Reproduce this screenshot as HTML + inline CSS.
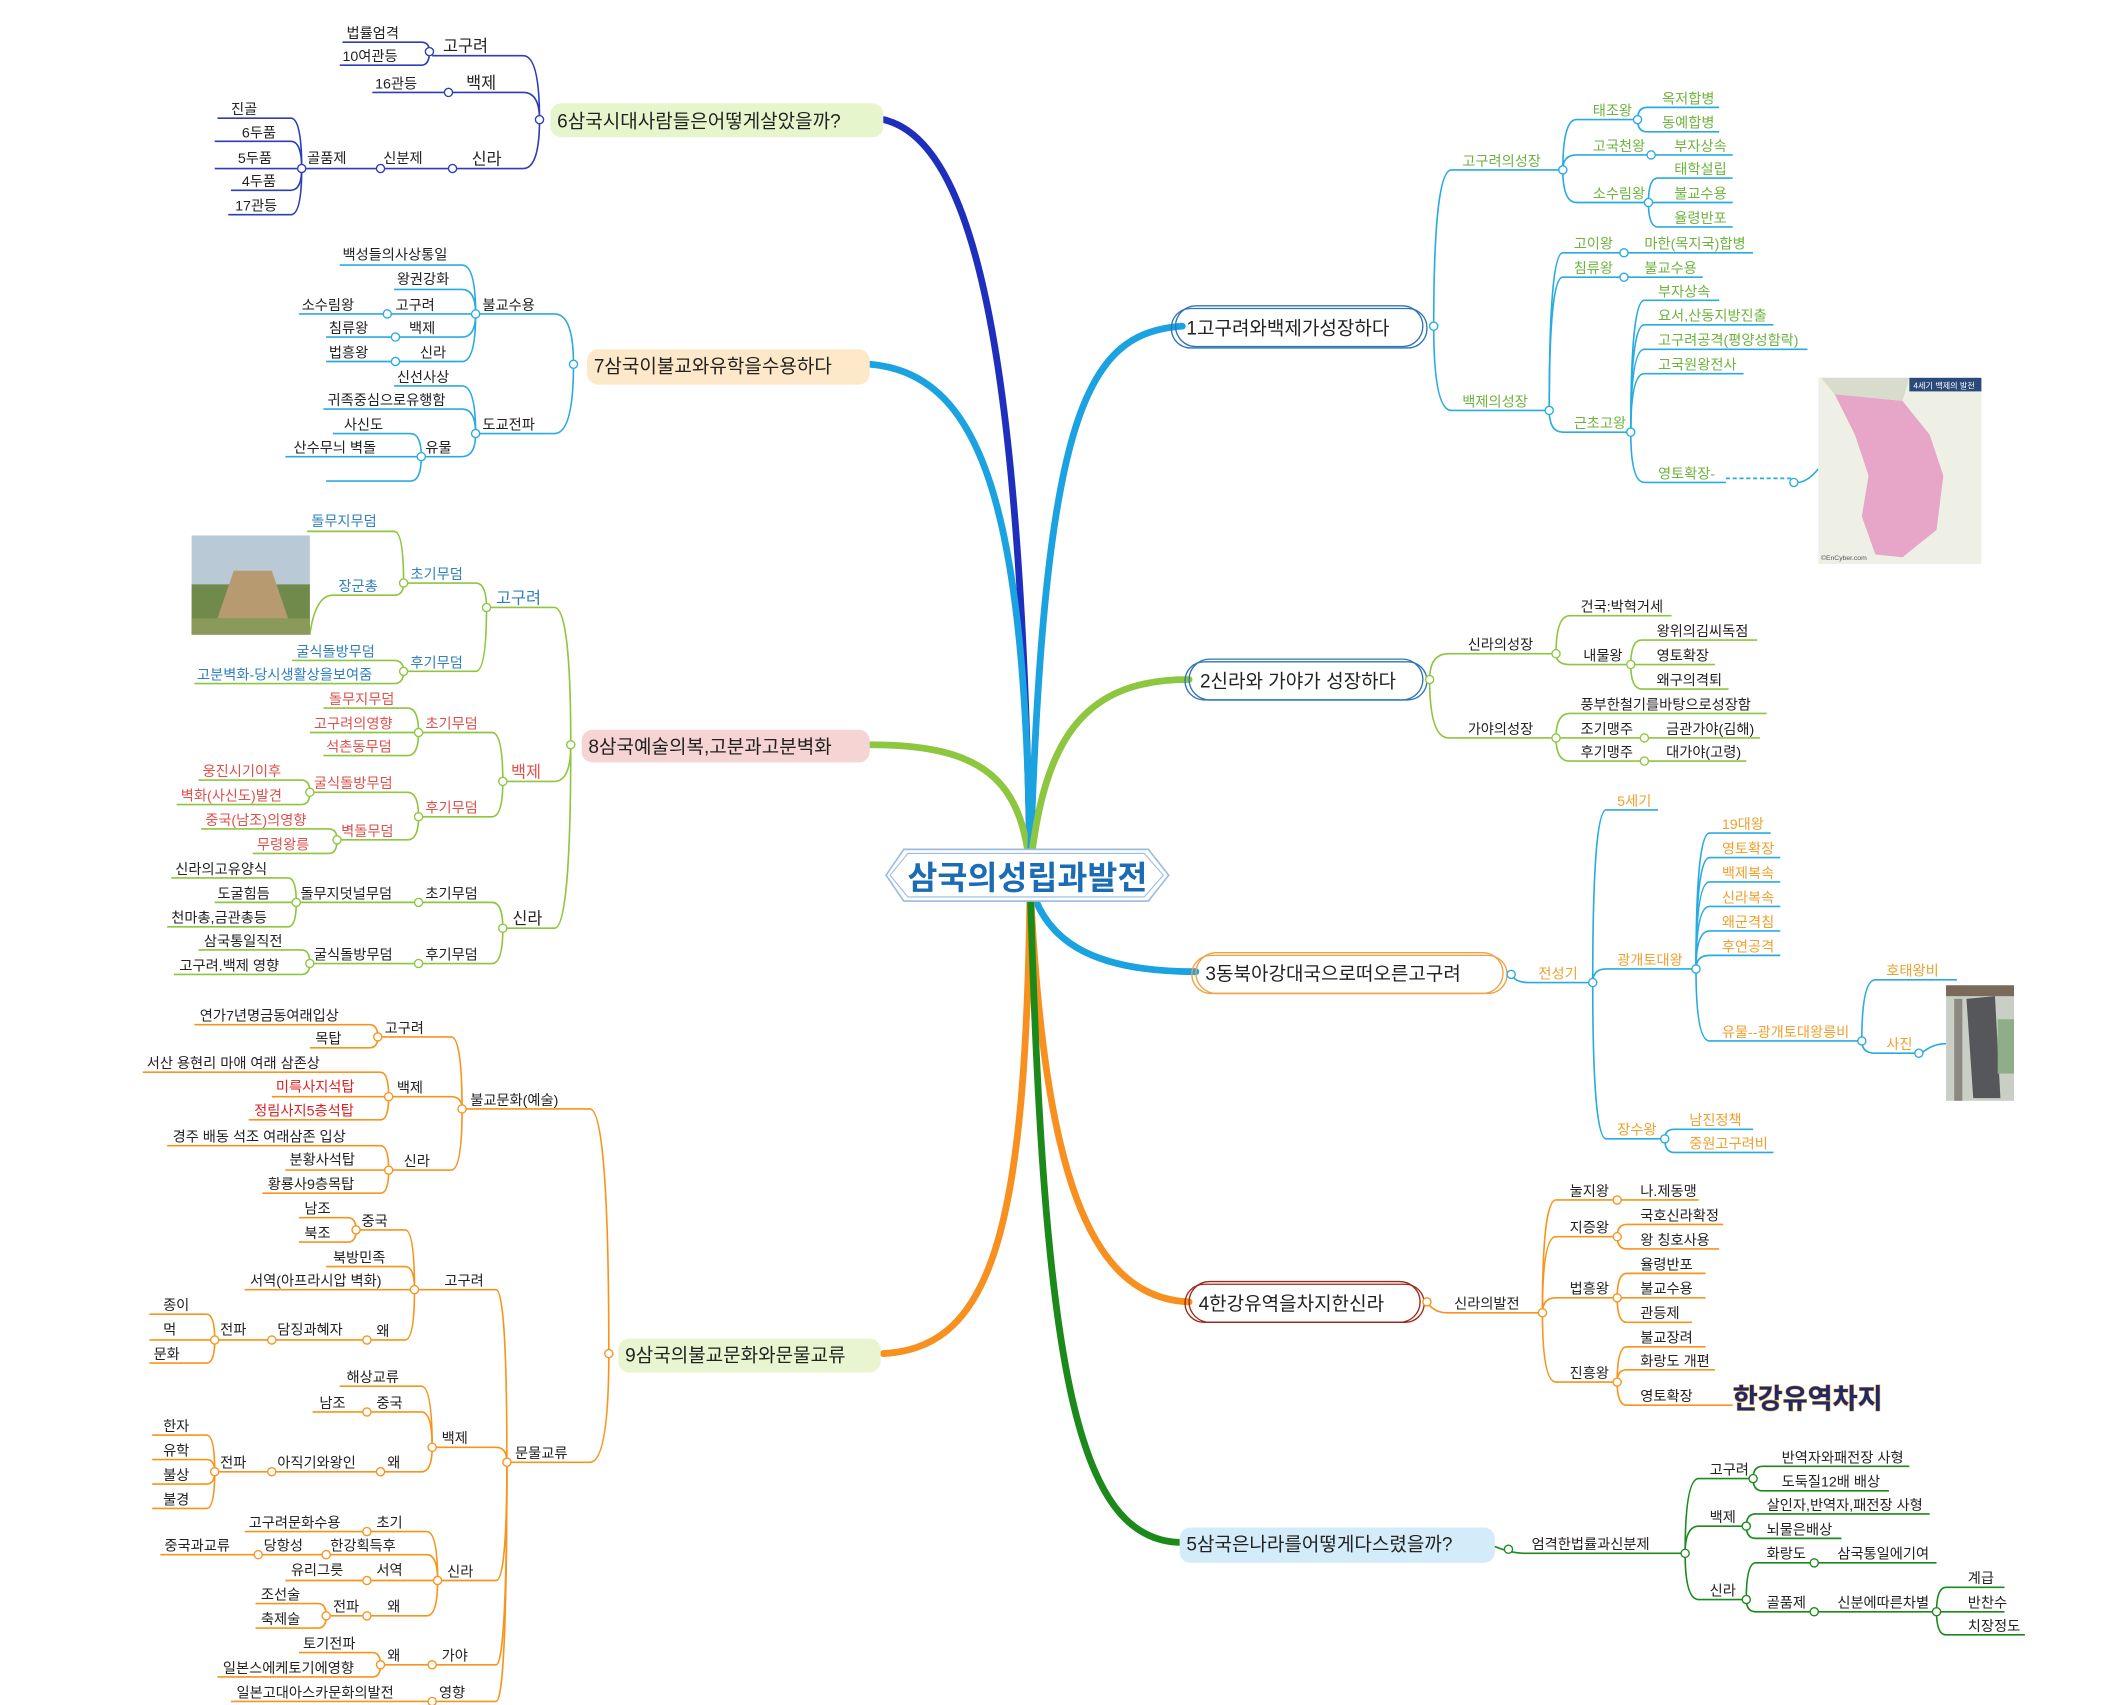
<!DOCTYPE html>
<html><head><meta charset="utf-8"><style>
html,body{margin:0;padding:0;background:#fff;}
svg{display:block}
text{font-family:"Liberation Sans","Noto Sans CJK KR",sans-serif;font-size:10.5px;}
.t{font-size:14px;fill:#222}
.c circle{fill:#fff}
</style></head><body>
<svg width="2120" height="1705" viewBox="0 0 1560 1254.6" xmlns="http://www.w3.org/2000/svg">
<!-- main branches -->
<g fill="none" stroke-linecap="round">
<path d="M758,640 C752,300 725,105 650,88" stroke="#1f2fbd" stroke-width="5"/>
<path d="M758,640 C755,380 725,275 640,268" stroke="#1aa3e0" stroke-width="5"/>
<path d="M758,640 C752,575 725,548 640,548" stroke="#8dc63f" stroke-width="5"/>
<path d="M758,650 C755,900 732,992 650,996" stroke="#f7901e" stroke-width="5"/>
<path d="M758,640 C768,300 800,245 870,240" stroke="#1aa3e0" stroke-width="5"/>
<path d="M758,640 C768,540 800,500 875,500" stroke="#8dc63f" stroke-width="5"/>
<path d="M758,650 C768,690 800,715 880,715" stroke="#1aa3e0" stroke-width="5"/>
<path d="M758,650 C768,860 800,955 875,958" stroke="#f7901e" stroke-width="5"/>
<path d="M758,650 C768,1000 790,1135 870,1135" stroke="#1b8a1b" stroke-width="5"/>
</g>
<!-- title -->
<polygon points="665,625 845,625 860,644 845,663 665,663 652,644" fill="#fff" stroke="#9bbbe0" stroke-width="1.2"/>
<polygon points="668,628 842,628 856,644 842,660 668,660 655,644" fill="#fff" stroke="#9bbbe0" stroke-width="0.8"/>
<text x="756" y="654" text-anchor="middle" style="font-size:24px;font-weight:bold;fill:#1c6bb5">삼국의성립과발전</text>

<!-- ===== Section 6 ===== -->
<rect x="405" y="76" width="245" height="25" rx="8" fill="#e6f5cc"/>
<g fill="none" stroke="#2d3eb8" stroke-width="1.2">
<path d="M397,88 Q397,41 385,41 H318"/><path d="M397,88 Q397,68 385,68 H330"/><path d="M397,88 Q397,124 385,124 H333"/>
<path d="M316,38 Q316,31 310,31 H252"/><path d="M316,38 Q316,48 310,48 H250"/>
<path d="M328,68 H274"/><path d="M333,124 H222"/>
<path d="M222,124 Q222,87 214,87 H160"/><path d="M222,124 Q222,104 214,104 H158"/><path d="M222,124 H158"/><path d="M222,124 Q222,140 214,140 H170"/><path d="M222,124 Q222,158 214,158 H168"/>
</g>
<g class="c" stroke="#2d3eb8"><circle cx="397" cy="88" r="3"/><circle cx="316" cy="38" r="3"/><circle cx="330" cy="68" r="3"/><circle cx="333" cy="124" r="3"/><circle cx="280" cy="124" r="3"/><circle cx="222" cy="124" r="3"/></g>
<text x="410" y="94" class="t">6삼국시대사람들은어떻게살았을까?</text>
<g fill="#222"><text x="326" y="38" style="font-size:12px">고구려</text><text x="255" y="28">법률엄격</text><text x="252" y="45">10여관등</text>
<text x="343" y="65" style="font-size:12px">백제</text><text x="276" y="65">16관등</text>
<text x="347" y="121" style="font-size:12px">신라</text><text x="282" y="120">신분제</text><text x="226" y="120">골품제</text>
<text x="170" y="84">진골</text><text x="178" y="101">6두품</text><text x="175" y="120">5두품</text><text x="178" y="137">4두품</text><text x="173" y="155">17관등</text></g>

<!-- ===== Section 7 ===== -->
<rect x="432" y="257" width="208" height="26" rx="8" fill="#fde9c9"/>
<g fill="none" stroke="#29abe2" stroke-width="1.2">
<path d="M422,268 Q422,231 408,231 H350"/><path d="M422,268 Q422,319 408,319 H350"/>
<path d="M350,231 Q350,195 340,195 H250"/><path d="M350,231 Q350,213 340,213 H290"/><path d="M350,231 H220"/>
<path d="M350,231 Q350,248 340,248 H240"/><path d="M350,231 Q350,266 340,266 H240"/>
<path d="M350,319 Q350,284 340,284 H290"/><path d="M350,319 Q350,301 340,301 H238"/><path d="M350,319 Q350,336 340,336 H310"/>
<path d="M310,336 Q310,319 302,319 H245"/><path d="M310,336 H210"/><path d="M310,336 Q310,354 302,354 H240"/>
</g>
<g class="c" stroke="#29abe2"><circle cx="422" cy="268" r="3"/><circle cx="350" cy="231" r="3"/><circle cx="350" cy="319" r="3"/><circle cx="285" cy="231" r="3"/><circle cx="291" cy="248" r="3"/><circle cx="291" cy="266" r="3"/><circle cx="310" cy="336" r="3"/></g>
<text x="437" y="274" class="t">7삼국이불교와유학을수용하다</text>
<g fill="#222"><text x="355" y="228">불교수용</text><text x="355" y="316">도교전파</text>
<text x="252" y="191">백성들의사상통일</text><text x="292" y="209">왕권강화</text><text x="291" y="228">고구려</text><text x="222" y="228">소수림왕</text>
<text x="301" y="245">백제</text><text x="242" y="245">침류왕</text><text x="309" y="263">신라</text><text x="242" y="263">법흥왕</text>
<text x="292" y="281">신선사상</text><text x="241" y="298">귀족중심으로유행함</text><text x="313" y="333">유물</text><text x="253" y="316">사신도</text><text x="216" y="333">산수무늬 벽돌</text></g>

<!-- ===== Section 8 ===== -->
<rect x="428" y="537" width="212" height="24" rx="8" fill="#f7d4d4"/>
<g fill="none" stroke="#8dc63f" stroke-width="1.2">
<path d="M420,548 Q420,447 408,447 H358"/><path d="M420,548 Q420,575 408,575 H370"/><path d="M420,548 Q420,683 408,683 H370"/>
<path d="M358,447 Q358,429 350,429 H297"/><path d="M358,447 Q358,494 350,494 H297"/>
<path d="M297,429 Q297,391 290,391 H226"/><path d="M297,429 Q297,438 290,438 H245 Q232,438 228,467"/>
<path d="M297,494 Q297,486 290,486 H215"/><path d="M297,494 Q297,503 290,503 H143"/>
<path d="M370,575 Q370,539 362,539 H308"/><path d="M370,575 Q370,601 362,601 H308"/>
<path d="M308,539 Q308,521 300,521 H238"/><path d="M308,539 H228"/><path d="M308,539 Q308,556 300,556 H238"/>
<path d="M308,601 Q308,583 300,583 H228"/><path d="M308,601 Q308,618 300,618 H248"/>
<path d="M228,583 Q228,574 222,574 H146"/><path d="M228,583 Q228,592 222,592 H130"/>
<path d="M248,618 Q248,610 242,610 H148"/><path d="M248,618 Q248,628 242,628 H186"/>
<path d="M370,683 Q370,664 362,664 H308"/><path d="M370,683 Q370,709 362,709 H308"/>
<path d="M308,664 H218"/><path d="M218,664 Q218,646 212,646 H126"/><path d="M218,664 H158"/><path d="M218,664 Q218,682 212,682 H123"/>
<path d="M308,709 H228"/><path d="M228,709 Q228,699 222,699 H146"/><path d="M228,709 Q228,717 222,717 H128"/>
</g>
<g class="c" stroke="#8dc63f"><circle cx="420" cy="548" r="3"/><circle cx="358" cy="447" r="3"/><circle cx="297" cy="429" r="3"/><circle cx="297" cy="494" r="3"/><circle cx="370" cy="575" r="3"/><circle cx="308" cy="539" r="3"/><circle cx="308" cy="601" r="3"/><circle cx="228" cy="583" r="3"/><circle cx="248" cy="618" r="3"/><circle cx="370" cy="683" r="3"/><circle cx="308" cy="664" r="3"/><circle cx="308" cy="709" r="3"/><circle cx="218" cy="664" r="3"/><circle cx="228" cy="709" r="3"/></g>
<!-- tomb image -->
<rect x="141" y="394" width="87" height="73" fill="#b9c9d6"/>
<rect x="141" y="430" width="87" height="37" fill="#6f8a4a"/>
<polygon points="160,455 172,420 200,420 212,455" fill="#b89a70"/>
<rect x="141" y="455" width="87" height="12" fill="#8a9a5a"/>
<text x="433" y="554" class="t">8삼국예술의복,고분과고분벽화</text>
<g fill="#2f7fc1"><text x="365" y="444" style="font-size:12px">고구려</text><text x="302" y="426">초기무덤</text><text x="229" y="387">돌무지무덤</text><text x="249" y="435">장군총</text>
<text x="302" y="491">후기무덤</text><text x="218" y="483">굴식돌방무덤</text><text x="145" y="500">고분벽화-당시생활상을보여줌</text></g>
<g fill="#e0504a"><text x="376" y="572" style="font-size:12px">백제</text><text x="313" y="536">초기무덤</text><text x="242" y="518">돌무지무덤</text><text x="231" y="536">고구려의영향</text><text x="240" y="553">석촌동무덤</text>
<text x="313" y="598">후기무덤</text><text x="231" y="580">굴식돌방무덤</text><text x="149" y="571">웅진시기이후</text><text x="133" y="589">벽화(사신도)발견</text>
<text x="251" y="615">벽돌무덤</text><text x="151" y="607">중국(남조)의영향</text><text x="189" y="625">무령왕릉</text></g>
<g fill="#222"><text x="377" y="680" style="font-size:12px">신라</text><text x="313" y="661">초기무덤</text><text x="221" y="661">돌무지덧널무덤</text><text x="129" y="643">신라의고유양식</text><text x="160" y="661">도굴힘듬</text><text x="126" y="679">천마총,금관총등</text>
<text x="313" y="706">후기무덤</text><text x="231" y="706">굴식돌방무덤</text><text x="150" y="696">삼국통일직전</text><text x="132" y="714">고구려.백제 영향</text></g>

<!-- ===== Section 9 ===== -->
<rect x="455" y="985" width="193" height="25" rx="8" fill="#e8f5d0"/>
<g fill="none" stroke="#f7941d" stroke-width="1.2">
<path d="M448,996 Q448,816 434,816 H340"/><path d="M448,996 Q448,1076 434,1076 H373"/>
<path d="M340,816 Q340,763 332,763 H278"/><path d="M340,816 Q340,807 332,807 H286"/><path d="M340,816 Q340,861 332,861 H286"/>
<path d="M278,763 Q278,754 272,754 H143"/><path d="M278,763 Q278,771 272,771 H228"/>
<path d="M286,807 Q286,789 280,789 H105"/><path d="M286,807 H200"/><path d="M286,807 Q286,824 280,824 H183"/>
<path d="M286,861 Q286,843 280,843 H123"/><path d="M286,861 H210"/><path d="M286,861 Q286,878 280,878 H193"/>
<path d="M373,1076 Q373,949 365,949 H305"/><path d="M373,1076 Q373,1065 365,1065 H318"/><path d="M373,1076 Q373,1163 365,1163 H322"/><path d="M373,1076 Q373,1225 365,1225 H318"/><path d="M373,1076 Q373,1252 365,1252 H318"/>
<path d="M305,949 Q305,905 298,905 H262"/><path d="M305,949 Q305,932 298,932 H240"/><path d="M305,949 H180"/><path d="M305,949 Q305,986 298,986 H158"/>
<path d="M262,905 Q262,896 256,896 H220"/><path d="M262,905 Q262,914 256,914 H220"/>
<path d="M158,986 Q158,967 152,967 H110"/><path d="M158,986 H110"/><path d="M158,986 Q158,1003 152,1003 H110"/>
<path d="M318,1065 Q318,1020 310,1020 H250"/><path d="M318,1065 Q318,1039 310,1039 H230"/><path d="M318,1065 Q318,1083 310,1083 H158"/>
<path d="M158,1083 Q158,1056 152,1056 H112"/><path d="M158,1083 Q158,1074 152,1074 H112"/><path d="M158,1083 Q158,1092 152,1092 H112"/><path d="M158,1083 Q158,1110 152,1110 H112"/>
<path d="M322,1163 Q322,1127 314,1127 H180"/><path d="M322,1163 Q322,1144 314,1144 H118"/><path d="M322,1163 H210"/><path d="M322,1163 Q322,1189 314,1189 H240"/>
<path d="M240,1189 Q240,1180 234,1180 H188"/><path d="M240,1189 Q240,1198 234,1198 H188"/>
<path d="M318,1225 H280"/><path d="M280,1225 Q280,1216 274,1216 H220"/><path d="M280,1225 Q280,1234 274,1234 H160"/>
<path d="M318,1252 H170"/>
</g>
<g class="c" stroke="#f7941d"><circle cx="448" cy="996" r="3"/><circle cx="340" cy="816" r="3"/><circle cx="373" cy="1076" r="3"/><circle cx="278" cy="763" r="3"/><circle cx="286" cy="807" r="3"/><circle cx="286" cy="861" r="3"/><circle cx="305" cy="949" r="3"/><circle cx="262" cy="905" r="3"/><circle cx="270" cy="986" r="3"/><circle cx="200" cy="986" r="3"/><circle cx="158" cy="986" r="3"/><circle cx="318" cy="1065" r="3"/><circle cx="270" cy="1039" r="3"/><circle cx="280" cy="1083" r="3"/><circle cx="200" cy="1083" r="3"/><circle cx="158" cy="1083" r="3"/><circle cx="322" cy="1163" r="3"/><circle cx="270" cy="1127" r="3"/><circle cx="240" cy="1144" r="3"/><circle cx="190" cy="1144" r="3"/><circle cx="270" cy="1163" r="3"/><circle cx="270" cy="1189" r="3"/><circle cx="240" cy="1189" r="3"/><circle cx="318" cy="1225" r="3"/><circle cx="280" cy="1225" r="3"/><circle cx="318" cy="1252" r="3"/></g>
<text x="460" y="1002" class="t">9삼국의불교문화와문물교류</text>
<g fill="#222"><text x="346" y="813">불교문화(예술)</text><text x="283" y="760">고구려</text><text x="147" y="751">연가7년명금동여래입상</text><text x="232" y="768">목탑</text>
<text x="292" y="804">백제</text><text x="108" y="786">서산 용현리 마애 여래 삼존상</text>
<text x="297" y="858">신라</text><text x="127" y="840">경주 배동 석조 여래삼존 입상</text><text x="213" y="857">분황사석탑</text><text x="197" y="875">황룡사9층목탑</text>
<text x="379" y="1073">문물교류</text><text x="327" y="946">고구려</text><text x="266" y="902">중국</text><text x="224" y="893">남조</text><text x="224" y="911">북조</text><text x="245" y="929">북방민족</text><text x="184" y="946">서역(아프라시압 벽화)</text>
<text x="277" y="983">왜</text><text x="204" y="982">담징과혜자</text><text x="162" y="982">전파</text><text x="120" y="964">종이</text><text x="120" y="982">먹</text><text x="113" y="1000">문화</text>
<text x="325" y="1062">백제</text><text x="255" y="1017">해상교류</text><text x="277" y="1036">중국</text><text x="235" y="1036">남조</text><text x="285" y="1080">왜</text><text x="204" y="1080">아직기와왕인</text><text x="162" y="1080">전파</text>
<text x="120" y="1053">한자</text><text x="120" y="1071">유학</text><text x="120" y="1089">불상</text><text x="120" y="1107">불경</text>
<text x="329" y="1160">신라</text><text x="277" y="1124">초기</text><text x="183" y="1124">고구려문화수용</text><text x="243" y="1141">한강획득후</text><text x="194" y="1141">당항성</text><text x="121" y="1141">중국과교류</text>
<text x="277" y="1159">서역</text><text x="214" y="1159">유리그릇</text><text x="285" y="1186">왜</text><text x="245" y="1186">전파</text><text x="192" y="1177">조선술</text><text x="192" y="1195">축제술</text>
<text x="325" y="1222">가야</text><text x="285" y="1222">왜</text><text x="223" y="1213">토기전파</text><text x="164" y="1231">일본스에케토기에영향</text>
<text x="323" y="1249">영향</text><text x="174" y="1249">일본고대아스카문화의발전</text></g>
<g fill="#e02020"><text x="203" y="803">미륵사지석탑</text><text x="187" y="821">정림사지5층석탑</text></g>

<!-- ===== Section 1 ===== -->
<g fill="none" stroke="#2e75b6" stroke-width="1"><rect x="862" y="227" width="188" height="29" rx="14"/><rect x="865" y="225" width="182" height="30" rx="15"/></g>
<g fill="none" stroke="#29abe2" stroke-width="1.2">
<path d="M1055,240 Q1055,125 1068,125 H1150"/><path d="M1055,240 Q1055,302 1068,302 H1140"/>
<path d="M1150,125 Q1150,88 1160,88 H1205"/><path d="M1150,125 Q1150,114 1160,114 H1275"/><path d="M1150,125 Q1150,149 1160,149 H1213"/>
<path d="M1205,88 Q1205,79 1212,79 H1265"/><path d="M1205,88 Q1205,97 1212,97 H1265"/>
<path d="M1213,149 Q1213,131 1220,131 H1275"/><path d="M1213,149 H1275"/><path d="M1213,149 Q1213,167 1220,167 H1275"/>
<path d="M1140,302 Q1140,186 1150,186 H1290"/><path d="M1140,302 Q1140,204 1150,204 H1253"/><path d="M1140,302 Q1140,318 1150,318 H1200"/>
<path d="M1200,318 Q1200,221 1210,221 H1265"/><path d="M1200,318 Q1200,239 1210,239 H1305"/><path d="M1200,318 Q1200,257 1210,257 H1330"/><path d="M1200,318 Q1200,275 1210,275 H1283"/><path d="M1200,318 Q1200,355 1210,355 H1270"/>
<path d="M1270,352 H1318" stroke-dasharray="3,2"/><path d="M1322,355 Q1330,355 1338,345"/>
</g>
<g class="c" stroke="#29abe2"><circle cx="1055" cy="240" r="3"/><circle cx="1150" cy="125" r="3"/><circle cx="1205" cy="88" r="3"/><circle cx="1215" cy="114" r="3"/><circle cx="1213" cy="149" r="3"/><circle cx="1140" cy="302" r="3"/><circle cx="1195" cy="186" r="3"/><circle cx="1195" cy="204" r="3"/><circle cx="1200" cy="318" r="3"/><circle cx="1320" cy="355" r="3"/></g>
<!-- map -->
<rect x="1338" y="278" width="120" height="137" fill="#eef0e6"/>
<rect x="1405" y="278" width="53" height="10" fill="#2a4a7a"/>
<text x="1408" y="286" style="font-size:6px;fill:#fff">4세기 백제의 발전</text>
<polygon points="1350,290 1400,295 1420,320 1430,350 1425,390 1400,410 1380,408 1370,380 1375,350 1365,320" fill="#e7a6c8"/>
<polygon points="1340,278 1405,278 1400,295 1350,290" fill="#d8dccc"/>
<text x="1340" y="412" style="font-size:5px;fill:#555">©EnCyber.com</text>
<text x="873" y="246" class="t">1고구려와백제가성장하다</text>
<g fill="#6fb33f"><text x="1076" y="122">고구려의성장</text><text x="1172" y="85">태조왕</text><text x="1223" y="76">옥저합병</text><text x="1223" y="94">동예합병</text>
<text x="1172" y="111">고국천왕</text><text x="1232" y="111">부자상속</text><text x="1172" y="146">소수림왕</text><text x="1232" y="128">태학설립</text><text x="1232" y="146">불교수용</text><text x="1232" y="164">율령반포</text>
<text x="1076" y="299">백제의성장</text><text x="1158" y="183">고이왕</text><text x="1210" y="183">마한(목지국)합병</text><text x="1158" y="201">침류왕</text><text x="1210" y="201">불교수용</text>
<text x="1158" y="315">근초고왕</text><text x="1220" y="218">부자상속</text><text x="1220" y="236">요서,산동지방진출</text><text x="1220" y="254">고구려공격(평양성함락)</text><text x="1220" y="272">고국원왕전사</text><text x="1220" y="352">영토확장-</text></g>

<!-- ===== Section 2 ===== -->
<g fill="none" stroke="#2e75b6" stroke-width="1"><rect x="872" y="487" width="178" height="28" rx="14"/><rect x="875" y="485" width="172" height="30" rx="15"/></g>
<g fill="none" stroke="#8dc63f" stroke-width="1.2">
<path d="M1052,500 Q1052,481 1066,481 H1145"/><path d="M1052,500 Q1052,543 1066,543 H1145"/>
<path d="M1145,481 Q1145,453 1155,453 H1230"/><path d="M1145,481 Q1145,489 1155,489 H1200"/>
<path d="M1200,489 Q1200,471 1208,471 H1293"/><path d="M1200,489 H1262"/><path d="M1200,489 Q1200,507 1208,507 H1272"/>
<path d="M1145,543 Q1145,525 1155,525 H1300"/><path d="M1145,543 H1295"/><path d="M1145,543 Q1145,560 1155,560 H1285"/>
</g>
<g class="c" stroke="#8dc63f"><circle cx="1052" cy="500" r="3"/><circle cx="1145" cy="481" r="3"/><circle cx="1200" cy="489" r="3"/><circle cx="1145" cy="543" r="3"/><circle cx="1210" cy="543" r="3"/><circle cx="1210" cy="560" r="3"/></g>
<text x="883" y="506" class="t">2신라와 가야가 성장하다</text>
<g fill="#222"><text x="1080" y="478">신라의성장</text><text x="1163" y="450">건국:박혁거세</text><text x="1165" y="486">내물왕</text><text x="1219" y="468">왕위의김씨독점</text><text x="1219" y="486">영토확장</text><text x="1219" y="504">왜구의격퇴</text>
<text x="1080" y="540">가야의성장</text><text x="1163" y="522">풍부한철기를바탕으로성장함</text><text x="1163" y="540">조기맹주</text><text x="1226" y="540">금관가야(김해)</text><text x="1163" y="557">후기맹주</text><text x="1226" y="557">대가야(고령)</text></g>

<!-- ===== Section 3 ===== -->
<g fill="none" stroke="#f0a040" stroke-width="1"><rect x="877" y="703" width="232" height="28" rx="14"/><rect x="880" y="701" width="226" height="30" rx="15"/></g>
<g fill="none" stroke="#29abe2" stroke-width="1.2">
<path d="M1112,717 Q1115,723 1125,723 H1172"/>
<path d="M1172,723 Q1172,596 1182,596 H1220"/><path d="M1172,723 Q1172,713 1182,713 H1248"/><path d="M1172,723 Q1172,838 1182,838 H1225"/>
<path d="M1248,713 Q1248,613 1258,613 H1303"/><path d="M1248,713 Q1248,631 1258,631 H1310"/><path d="M1248,713 Q1248,649 1258,649 H1310"/><path d="M1248,713 Q1248,667 1258,667 H1310"/><path d="M1248,713 Q1248,685 1258,685 H1310"/><path d="M1248,713 Q1248,703 1258,703 H1310"/>
<path d="M1248,713 Q1248,766 1258,766 H1370"/>
<path d="M1370,766 Q1370,721 1380,721 H1440"/><path d="M1370,766 Q1370,775 1380,775 H1412"/><path d="M1414,775 Q1422,768 1432,768"/>
<path d="M1225,838 Q1225,831 1232,831 H1290"/><path d="M1225,838 Q1225,848 1232,848 H1305"/>
</g>
<g class="c" stroke="#29abe2"><circle cx="1112" cy="717" r="3"/><circle cx="1172" cy="723" r="3"/><circle cx="1248" cy="713" r="3"/><circle cx="1370" cy="766" r="3"/><circle cx="1412" cy="775" r="3"/><circle cx="1225" cy="838" r="3"/></g>
<!-- stele -->
<rect x="1432" y="725" width="50" height="85" fill="#c9cfc4"/>
<rect x="1432" y="725" width="50" height="8" fill="#7a6a5a"/>
<rect x="1438" y="735" width="6" height="75" fill="#8a8a80"/>
<polygon points="1447,735 1468,733 1472,808 1452,808" fill="#55575a"/>
<rect x="1470" y="750" width="12" height="40" fill="#8fae88"/>
<text x="887" y="721" class="t">3동북아강대국으로떠오른고구려</text>
<g fill="#f0a030"><text x="1132" y="720">전성기</text><text x="1190" y="593">5세기</text><text x="1190" y="710">광개토대왕</text>
<text x="1267" y="610">19대왕</text><text x="1267" y="628">영토확장</text><text x="1267" y="646">백제복속</text><text x="1267" y="664">신라복속</text><text x="1267" y="682">왜군격침</text><text x="1267" y="700">후연공격</text>
<text x="1267" y="763">유물--광개토대왕릉비</text><text x="1388" y="718">호태왕비</text><text x="1388" y="772">사진</text>
<text x="1190" y="835">장수왕</text><text x="1243" y="828">남진정책</text><text x="1243" y="845">중원고구려비</text></g>

<!-- ===== Section 4 ===== -->
<g fill="none" stroke="#9b2a1a" stroke-width="1"><rect x="872" y="945" width="176" height="28" rx="14"/><rect x="875" y="943" width="170" height="30" rx="15"/></g>
<g fill="none" stroke="#f7941d" stroke-width="1.2">
<path d="M1050,958 Q1055,966 1065,966 H1135"/>
<path d="M1135,966 Q1135,883 1145,883 H1250"/><path d="M1135,966 Q1135,910 1145,910 H1190"/><path d="M1135,966 Q1135,955 1145,955 H1190"/><path d="M1135,966 Q1135,1017 1145,1017 H1190"/>
<path d="M1190,910 Q1190,901 1197,901 H1268"/><path d="M1190,910 Q1190,919 1197,919 H1265"/>
<path d="M1190,955 Q1190,937 1197,937 H1255"/><path d="M1190,955 H1255"/><path d="M1190,955 Q1190,973 1197,973 H1245"/>
<path d="M1190,1017 Q1190,991 1197,991 H1255"/><path d="M1190,1017 Q1190,1008 1197,1008 H1262"/><path d="M1190,1017 Q1190,1034 1197,1034 H1275"/>
</g>
<g class="c" stroke="#f7941d"><circle cx="1050" cy="958" r="3"/><circle cx="1135" cy="966" r="3"/><circle cx="1190" cy="883" r="3"/><circle cx="1190" cy="910" r="3"/><circle cx="1190" cy="955" r="3"/><circle cx="1190" cy="1017" r="3"/></g>
<text x="882" y="964" class="t">4한강유역을차지한신라</text>
<g fill="#222"><text x="1070" y="963">신라의발전</text><text x="1155" y="880">눌지왕</text><text x="1207" y="880">나.제동맹</text>
<text x="1155" y="907">지증왕</text><text x="1207" y="898">국호신라확정</text><text x="1207" y="916">왕 칭호사용</text>
<text x="1155" y="952">법흥왕</text><text x="1207" y="934">율령반포</text><text x="1207" y="952">불교수용</text><text x="1207" y="970">관등제</text>
<text x="1155" y="1014">진흥왕</text><text x="1207" y="988">불교장려</text><text x="1207" y="1005">화랑도 개편</text><text x="1207" y="1031">영토확장</text></g>
<text x="1275" y="1036" style="font-size:20px;font-weight:bold;fill:#1a2a6c;stroke:#f5a030;stroke-width:0.8;paint-order:stroke">한강유역차지</text>

<!-- ===== Section 5 ===== -->
<rect x="868" y="1124" width="232" height="26" rx="8" fill="#d4ebf9"/>
<g fill="none" stroke="#1b8a1b" stroke-width="1.2">
<path d="M1100,1138 Q1112,1143 1122,1143 H1240"/>
<path d="M1240,1143 Q1240,1088 1250,1088 H1290"/><path d="M1240,1143 Q1240,1123 1250,1123 H1285"/><path d="M1240,1143 Q1240,1177 1250,1177 H1285"/>
<path d="M1290,1088 Q1290,1079 1297,1079 H1405"/><path d="M1290,1088 Q1290,1097 1297,1097 H1390"/>
<path d="M1285,1123 Q1285,1114 1292,1114 H1420"/><path d="M1285,1123 Q1285,1132 1292,1132 H1355"/>
<path d="M1285,1177 Q1285,1150 1292,1150 H1425"/><path d="M1285,1177 Q1285,1186 1292,1186 H1425"/>
<path d="M1425,1186 Q1425,1168 1432,1168 H1475"/><path d="M1425,1186 H1475"/><path d="M1425,1186 Q1425,1203 1432,1203 H1490"/>
</g>
<g class="c" stroke="#1b8a1b"><circle cx="1110" cy="1140" r="3"/><circle cx="1240" cy="1143" r="3"/><circle cx="1290" cy="1088" r="3"/><circle cx="1285" cy="1123" r="3"/><circle cx="1285" cy="1177" r="3"/><circle cx="1335" cy="1150" r="3"/><circle cx="1335" cy="1186" r="3"/><circle cx="1425" cy="1186" r="3"/></g>
<text x="873" y="1141" class="t">5삼국은나라를어떻게다스렸을까?</text>
<g fill="#222"><text x="1127" y="1140">엄격한법률과신분제</text><text x="1258" y="1085">고구려</text><text x="1311" y="1076">반역자와패전장 사형</text><text x="1311" y="1094">도둑질12배 배상</text>
<text x="1258" y="1120">백제</text><text x="1300" y="1111">살인자,반역자,패전장 사형</text><text x="1300" y="1129">뇌물은배상</text>
<text x="1258" y="1174">신라</text><text x="1300" y="1147">화랑도</text><text x="1352" y="1147">삼국통일에기여</text><text x="1300" y="1183">골품제</text><text x="1352" y="1183">신분에따른차별</text>
<text x="1448" y="1165">계급</text><text x="1448" y="1183">반찬수</text><text x="1448" y="1200">치장정도</text></g>
</svg>
</body></html>
